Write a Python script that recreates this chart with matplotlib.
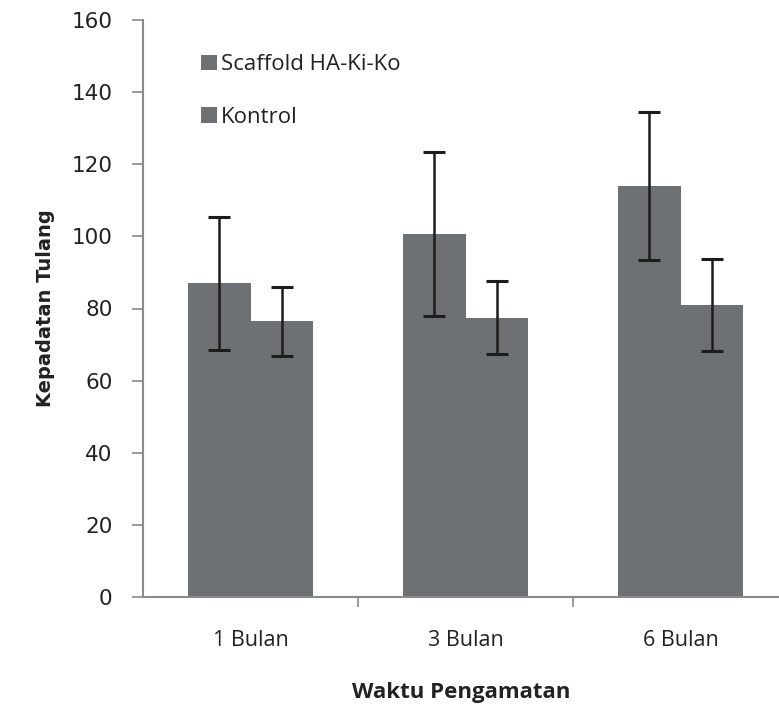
import matplotlib
matplotlib.use("Agg")
import matplotlib.pyplot as plt
import numpy as np

categories = ["1 Bulan", "3 Bulan", "6 Bulan"]
series_names = ["Scaffold HA-Ki-Ko", "Kontrol"]
scaffold = [87.0, 100.7, 114.0]
scaffold_err = [18.5, 22.8, 20.6]
kontrol = [76.4, 77.4, 81.0]
kontrol_err = [9.5, 10.1, 12.8]
yticks = [0, 20, 40, 60, 80, 100, 120, 140, 160]

bar_color = "#6e7174"
axis_color = "#8a8a8a"

fig = plt.figure(figsize=(7.79, 7.05), dpi=100)
ax = fig.add_axes([143/779, 108/705, 1 - 143/779, (597-20)/705])

x = np.arange(len(categories))
w = 0.29
ax.bar(x - w/2, scaffold, w, color=bar_color, label=series_names[0], zorder=2)
ax.bar(x + w/2, kontrol, w, color=bar_color, label=series_names[1], zorder=2)
ax.errorbar(x - w/2, scaffold, yerr=scaffold_err, fmt="none", ecolor="#1c1c1c",
            elinewidth=1.8, capsize=8, capthick=2.2, zorder=3)
ax.errorbar(x + w/2, kontrol, yerr=kontrol_err, fmt="none", ecolor="#1c1c1c",
            elinewidth=1.8, capsize=8, capthick=2.2, zorder=3)

ax.set_xlim(-0.5, -0.5 + 636/215)
ax.set_ylim(0, 160)
ax.set_yticks(yticks)
ax.set_yticklabels([str(t) for t in yticks], fontsize=15.5, family="DejaVu Sans", color="#222222")
ax.set_xticks(x)
ax.set_xticklabels(categories, fontsize=15.5, family="Open Sans", color="#222222")
ax.set_xticks([0.5, 1.5], minor=True)
ax.tick_params(axis="x", which="major", length=0, pad=24)
ax.tick_params(axis="x", which="minor", length=7, width=1.2, color=axis_color, direction="out")
ax.tick_params(axis="y", length=8, width=1.2, color=axis_color, direction="out", pad=14)

for s in ["top", "right"]:
    ax.spines[s].set_visible(False)
for s in ["left", "bottom"]:
    ax.spines[s].set_color(axis_color)
    ax.spines[s].set_linewidth(1.5)

ax.set_ylabel("Kepadatan Tulang", fontsize=14, fontweight="bold",
              family=["Liberation Sans Narrow", "DejaVu Sans"], labelpad=12, color="#222222")
ax.set_xlabel("Waktu Pengamatan", fontsize=16, fontweight="bold",
              family="Open Sans", labelpad=22, color="#222222")

leg = ax.legend(loc="upper left", bbox_to_anchor=(0.06, 0.975), frameon=False,
                prop={"family": "Open Sans", "size": 16},
                handlelength=0.7, handleheight=0.7, handletextpad=0.2,
                labelspacing=1.4)
for t in leg.get_texts():
    t.set_color("#222222")

fig.savefig("out.png", dpi=100)
